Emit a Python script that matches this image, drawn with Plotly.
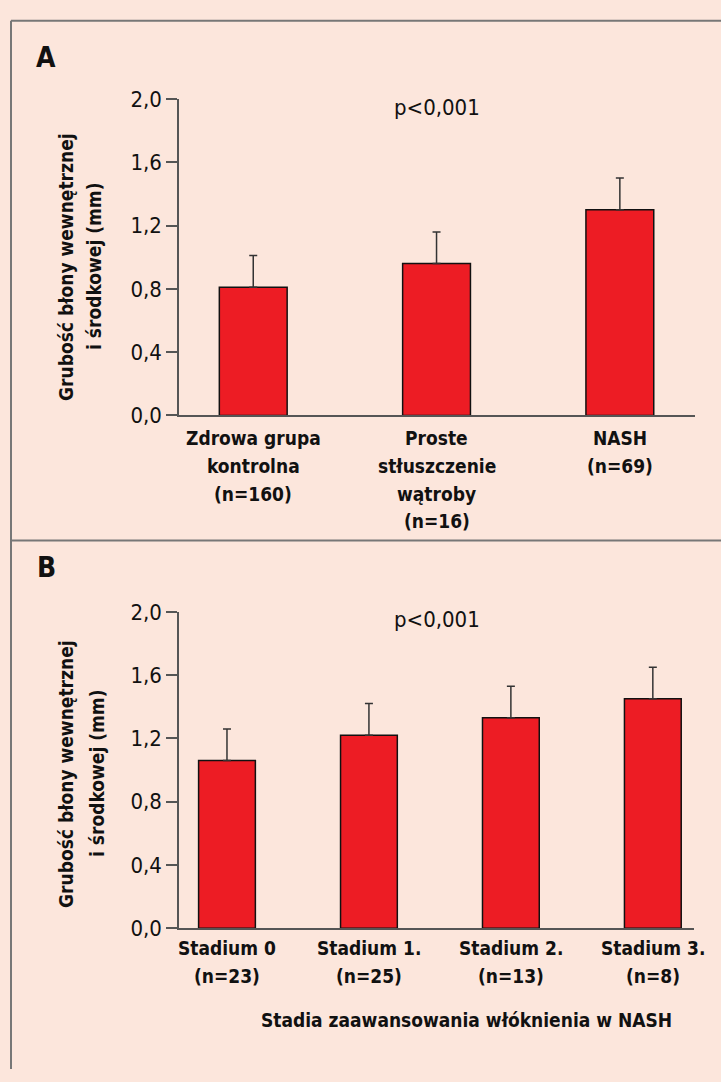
import plotly.graph_objects as go

# ---- data ----
cats_a = ["Zdrowa grupa<br>kontrolna<br>(n=160)", "Proste<br>stłuszczenie<br>wątroby<br>(n=16)", "NASH<br>(n=69)"]
vals_a = [0.81, 0.96, 1.30]
err_a = [0.20, 0.20, 0.20]

cats_b = ["Stadium 0<br>(n=23)", "Stadium 1.<br>(n=25)", "Stadium 2.<br>(n=13)", "Stadium 3.<br>(n=8)"]
vals_b = [1.06, 1.22, 1.33, 1.45]
err_b = [0.20, 0.20, 0.20, 0.20]

y_ticks = [0.0, 0.4, 0.8, 1.2, 1.6, 2.0]
y_title_1 = "Grubość błony wewnętrznej"
y_title_2 = "i środkowej (mm)"
x_title_b = "Stadia zaawansowania włóknienia w NASH"
p_text = "p<0,001"

W, H = 721, 1082
BG = "#FCE6DC"
RED = "#ED1C24"
AXC = "#555555"
FONT = "Liberation Sans Narrow, DejaVu Sans Condensed, Arial Narrow, sans-serif"

def px(x):
    return x / W

def py(y):
    return 1 - y / H

fig = go.Figure()

fig.add_trace(go.Bar(
    x=list(range(len(cats_a))), y=vals_a, width=0.37,
    marker=dict(color=RED, line=dict(color="#111111", width=1.5)),
    error_y=dict(type="data", symmetric=False, array=err_a, arrayminus=[0]*len(err_a),
                 color="#333333", thickness=1.5, width=4),
    xaxis="x", yaxis="y", showlegend=False, hoverinfo="skip"))

fig.add_trace(go.Bar(
    x=list(range(len(cats_b))), y=vals_b, width=0.40,
    marker=dict(color=RED, line=dict(color="#111111", width=1.5)),
    error_y=dict(type="data", symmetric=False, array=err_b, arrayminus=[0]*len(err_b),
                 color="#333333", thickness=1.5, width=4),
    xaxis="x2", yaxis="y2", showlegend=False, hoverinfo="skip"))

xcommon = dict(showline=True, linecolor=AXC, linewidth=1.5, showgrid=False, zeroline=False,
               ticks="", showticklabels=False)
ycommon = dict(showline=True, linecolor=AXC, linewidth=1.5, showgrid=False, zeroline=False,
               ticks="outside", ticklen=11, tickcolor=AXC, tickwidth=1.5,
               tickvals=y_ticks, tickformat=".1f", range=[0, 2.0],
               tickfont=dict(family=FONT, size=22, color="#111111"))

fig.update_layout(
    width=W, height=H, margin=dict(l=0, r=0, t=0, b=0),
    paper_bgcolor=BG, plot_bgcolor=BG, separators=", ",
    xaxis=dict(domain=[px(179), px(695)], range=[-0.405, 2.41],
               tickvals=list(range(len(cats_a))), anchor="y", **xcommon),
    yaxis=dict(domain=[py(413), py(89)], anchor="x", **ycommon),
    xaxis2=dict(domain=[px(179), px(694)], range=[-0.338, 3.29],
                tickvals=list(range(len(cats_b))), anchor="y2", **xcommon),
    yaxis2=dict(domain=[py(938), py(614)], anchor="x2", **ycommon),
)

# frame lines
line = dict(color="#777777", width=2)
fig.add_shape(type="line", xref="paper", yref="paper", x0=px(11), x1=1, y0=py(9), y1=py(9), line=line)
fig.add_shape(type="line", xref="paper", yref="paper", x0=px(11), x1=px(11), y0=py(9), y1=0, line=line)
fig.add_shape(type="line", xref="paper", yref="paper", x0=px(11), x1=1, y0=py(541), y1=py(541), line=line)

def ann(text, x, y, size, bold=False, angle=0, xref="paper"):
    fig.add_annotation(text=text, x=(px(x) if xref == "paper" else x), y=py(y),
                       xref=xref, yref="paper",
                       showarrow=False, textangle=angle, xanchor="center", yanchor="middle",
                       font=dict(family=FONT, size=size, color="#111111",
                                 weight="bold" if bold else "normal"))

# category labels (one annotation per line, placed at the category's x on the axis scale)
for i, lab in enumerate(cats_a):
    for j, part in enumerate(lab.split("<br>")):
        ann(part, i, 436 + 28.5 * j, 19, bold=True, xref="x")
for i, lab in enumerate(cats_b):
    for j, part in enumerate(lab.split("<br>")):
        ann(part, i, 958 + 29 * j, 19, bold=True, xref="x2")

# panel letters
ann("A", 46, 47, 28, bold=True)
ann("B", 46, 569, 28, bold=True)
# p-values
ann(p_text, 437, 98, 22)
ann(p_text, 437, 622, 22)
# y titles
ann(y_title_1, 66, 261, 19, bold=True, angle=-90)
ann(y_title_2, 94, 261, 19, bold=True, angle=-90)
ann(y_title_1, 66, 780, 19, bold=True, angle=-90)
ann(y_title_2, 97, 780, 19, bold=True, angle=-90)
# x title B
ann(x_title_b, 466, 1032, 19, bold=True)

fig.write_html("out.html", config={"displayModeBar": False},
               post_script="document.body.style.margin='0';document.body.style.overflow='hidden';"
                           "document.documentElement.style.overflow='hidden';")
